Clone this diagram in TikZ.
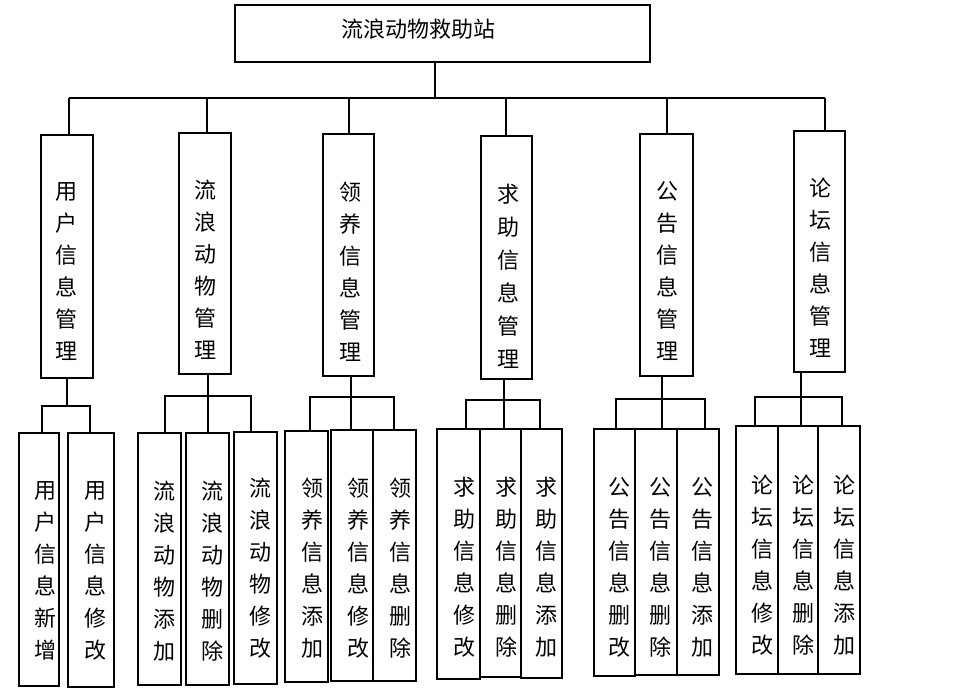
\documentclass[tikz,border=0pt]{standalone}
\usepackage{fontspec}
\newfontfamily\cjk{Noto Sans CJK SC}
\tikzset{
  box/.style={draw, line width=2pt, inner sep=0pt, outer sep=0pt},
  vtext/.style={font=\cjk\fontsize{22}{32}\selectfont, align=center, inner sep=0pt},
  roottext/.style={font=\cjk\fontsize{22}{24}\selectfont, inner sep=0pt},
  conn/.style={line width=2pt}
}
\newcommand\bx[5]{%
  \pgfmathsetmacro\bxcx{(#2+#4)/2}\pgfmathsetmacro\bxcy{(#3+#5)/2}%
  \pgfmathsetmacro\bxw{#4-#2}\pgfmathsetmacro\bxh{#5-#3}%
  \node[box, minimum width=\bxw pt, minimum height=\bxh pt] (#1) at (\bxcx,\bxcy) {};}
\begin{document}
\begin{tikzpicture}[x=1pt,y=-1pt]
\useasboundingbox[fill=white] (0,0) rectangle (966,688);
% root
\bx{root}{235}{5}{650}{62}
\node[roottext] (roott) at (418,29) {流浪动物救助站};
% level 2
\bx{m1}{40.7}{134.7}{93}{378}
\bx{m2}{179}{133}{231}{373.7}
\bx{m3}{322.7}{134}{374}{375.7}
\bx{m4}{481}{136}{532}{378.7}
\bx{m5}{640}{134}{693}{375.7}
\bx{m6}{793.7}{130.7}{845}{371.7}
\node[vtext] (m1t) at (66.7,271.7) {用\\户\\信\\息\\管\\理};
\node[vtext] (m2t) at (205,270) {流\\浪\\动\\物\\管\\理};
\node[vtext] (m3t) at (350,271.7) {领\\养\\信\\息\\管\\理};
\node[vtext, font=\cjk\fontsize{22}{33}\selectfont] (m4t) at (508,276.7) {求\\助\\信\\息\\管\\理};
\node[vtext] (m5t) at (667,270.7) {公\\告\\信\\息\\管\\理};
\node[vtext] (m6t) at (820.7,267.8) {论\\坛\\信\\息\\管\\理};
% leaves
\bx{l11}{19}{432.7}{59}{686}
\bx{l12}{68}{432.7}{114}{686.7}
\bx{l21}{138}{432.7}{181}{685.3}
\bx{l22}{185.7}{432.7}{229}{685.3}
\bx{l23}{234}{432}{277}{683.7}
\bx{l31}{285}{431}{328.3}{681.7}
\bx{l32}{330.7}{430}{372.7}{681}
\bx{l33}{372.7}{430}{416}{681}
\bx{l41}{437.3}{429}{479.7}{679}
\bx{l42}{479.7}{429}{521.3}{677}
\bx{l43}{521.3}{429}{562}{677.7}
\bx{l51}{593.7}{429}{634.7}{676.3}
\bx{l52}{634.7}{429}{676.7}{675.3}
\bx{l53}{676.7}{429}{718.7}{674.7}
\bx{l61}{736.3}{426}{778}{673.7}
\bx{l62}{778}{426}{818.3}{673.7}
\bx{l63}{818.3}{426}{860}{673.7}
\node[vtext] (l11t) at (45.7,571) {用\\户\\信\\息\\新\\增};
\node[vtext] (l12t) at (95,571) {用\\户\\信\\息\\修\\改};
\node[vtext] (l21t) at (164,571.3) {流\\浪\\动\\物\\添\\加};
\node[vtext] (l22t) at (212.3,571.3) {流\\浪\\动\\物\\删\\除};
\node[vtext] (l23t) at (260,568.5) {流\\浪\\动\\物\\修\\改};
\node[vtext] (l31t) at (312.3,568) {领\\养\\信\\息\\添\\加};
\node[vtext] (l32t) at (358.3,568) {领\\养\\信\\息\\修\\改};
\node[vtext] (l33t) at (400,568) {领\\养\\信\\息\\删\\除};
\node[vtext] (l41t) at (464,566.7) {求\\助\\信\\息\\修\\改};
\node[vtext] (l42t) at (506,566.7) {求\\助\\信\\息\\删\\除};
\node[vtext] (l43t) at (546,566.7) {求\\助\\信\\息\\添\\加};
\node[vtext] (l51t) at (619,567.2) {公\\告\\信\\息\\删\\改};
\node[vtext] (l52t) at (660.7,567.2) {公\\告\\信\\息\\删\\除};
\node[vtext] (l53t) at (702.7,567.2) {公\\告\\信\\息\\添\\加};
\node[vtext] (l61t) at (762.3,564.7) {论\\坛\\信\\息\\修\\改};
\node[vtext] (l62t) at (803.3,564.7) {论\\坛\\信\\息\\删\\除};
\node[vtext] (l63t) at (844.3,564.7) {论\\坛\\信\\息\\添\\加};
% connectors top
\coordinate (j0) at (435,98);
\coordinate (s1) at (69,98);
\coordinate (s2) at (207,98);
\coordinate (s3) at (349,98);
\coordinate (s4) at (505.7,98);
\coordinate (s5) at (667,98);
\coordinate (s6) at (825,98);
\draw[conn] (j0 |- root.south) -- (j0);
\draw[conn] (s1) -- (s6);
\foreach \i in {1,...,6} { \draw[conn] (s\i) -- (s\i |- m\i.north); }
% group 1
\coordinate (g1) at (66.7,405.7);
\coordinate (g1a) at (41.7,405.7);
\coordinate (g1b) at (90,405.7);
\draw[conn] (g1 |- m1.south) -- (g1);
\draw[conn] (g1a |- l11.north) -- (g1a) -- (g1b) -- (g1b |- l12.north);
% group 2
\coordinate (g2) at (207.7,396);
\coordinate (g2a) at (165,396);
\coordinate (g2b) at (250.7,396);
\draw[conn] (g2 |- m2.south) -- (g2 |- l22.north);
\draw[conn] (g2a |- l21.north) -- (g2a) -- (g2b) -- (g2b |- l23.north);
% group 3
\coordinate (g3) at (351,396.7);
\coordinate (g3a) at (310,396.7);
\coordinate (g3b) at (394,396.7);
\draw[conn] (g3 |- m3.south) -- (g3 |- l32.north);
\draw[conn] (g3a |- l31.north) -- (g3a) -- (g3b) -- (g3b |- l33.north);
% group 4
\coordinate (g4) at (504,400);
\coordinate (g4a) at (466,400);
\coordinate (g4b) at (540,400);
\draw[conn] (g4 |- m4.south) -- (g4 |- l42.north);
\draw[conn] (g4a |- l41.north) -- (g4a) -- (g4b) -- (g4b |- l43.north);
% group 5
\coordinate (g5) at (662,399);
\coordinate (g5a) at (616.3,399);
\coordinate (g5b) at (705,399);
\draw[conn] (g5 |- m5.south) -- (g5 |- l52.north);
\draw[conn] (g5a |- l51.north) -- (g5a) -- (g5b) -- (g5b |- l53.north);
% group 6
\coordinate (g6) at (801.3,396.7);
\coordinate (g6a) at (755,396.7);
\coordinate (g6b) at (841.7,396.7);
\draw[conn] (g6 |- m6.south) -- (g6 |- l62.north);
\draw[conn] (g6a |- l61.north) -- (g6a) -- (g6b) -- (g6b |- l63.north);
\end{tikzpicture}
\end{document}
